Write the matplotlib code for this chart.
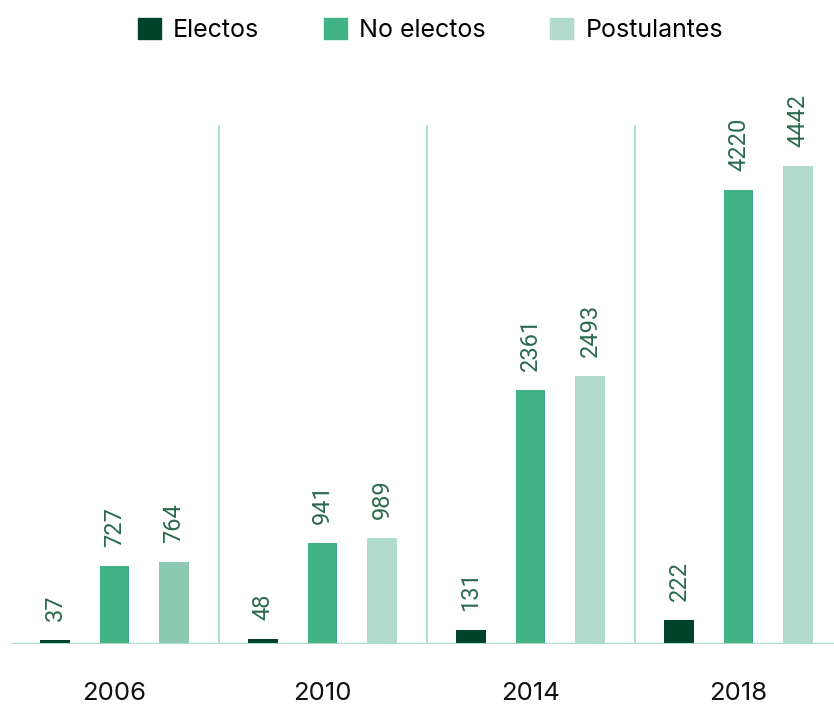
import matplotlib.pyplot as plt
import numpy as np

plt.rcParams['font.family'] = ['Inter', 'DejaVu Sans']

# datos
years = ['2006', '2010', '2014', '2018']
series = ['Electos', 'No electos', 'Postulantes']
electos = [37, 48, 131, 222]
no_electos = [727, 941, 2361, 4220]
postulantes = [764, 989, 2493, 4442]

colors = ['#00432b', '#41b384', '#b0dbcd']
post_colors = ['#8acab3', '#b0dbcd', '#b0dbcd', '#b0dbcd']
label_color = '#2b6a4e'
line_color = '#a6dcc9'

fig = plt.figure(figsize=(8.34, 7.04), dpi=100)
ax = fig.add_axes([10.5 / 834, 1 - 644 / 704, 1 - 10.5 / 834, 519 / 704])

x = np.arange(len(years))
off = 0.286
w = 0.144

ax.bar(x - off, electos, w, color=colors[0])
ax.bar(x, no_electos, w, color=colors[1])
ax.bar(x + off, postulantes, w, color=post_colors)

for vals, dx in [(electos, -off), (no_electos, 0), (postulantes, off)]:
    for xi, v in zip(x, vals):
        ax.text(xi + dx, v + 175, str(v), rotation=90, ha='center', va='bottom',
                fontsize=17, color=label_color,
                family=['Liberation Sans Narrow', 'Roboto', 'DejaVu Sans'])

ymax = 4823
ax.set_ylim(0, ymax)
ax.set_xlim(-0.5, -0.5 + (834 - 10.5) / 208)

# separadores
for s in x[1:] - 0.5:
    ax.plot([s, s], [0, ymax], color=line_color, lw=1.2, solid_capstyle='butt')
ax.axhline(0, color=line_color, lw=1.5)

for sp in ax.spines.values():
    sp.set_visible(False)
ax.set_yticks([])
ax.set_xticks([])

# etiquetas de año
for xi, yr in zip(x, years):
    ax.text(xi, -56 / 519, yr, transform=ax.get_xaxis_transform(), ha='center',
            va='baseline', fontsize=18.5, color='#111111')

handles = [plt.Rectangle((0, 0), 1, 1, color=c) for c in colors]
fig.legend(handles, series, loc='upper center', bbox_to_anchor=(0.516, 1.007), ncol=3,
           frameon=False, fontsize=18, handlelength=0.92, handleheight=0.92,
           handletextpad=0.48, columnspacing=2.6)

fig.savefig('out.png', dpi=100)
